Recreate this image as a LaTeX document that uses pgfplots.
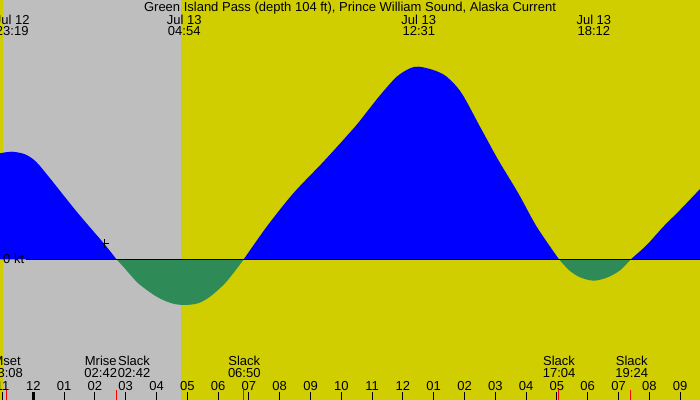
\documentclass[border=0pt]{standalone}
\usepackage{pgfplots}
\pgfplotsset{compat=1.18}
\usepackage{fontspec}
\setmainfont{Liberation Sans}
\definecolor{dayyellow}{RGB}{208,206,0}
\definecolor{nightgray}{RGB}{190,190,190}
\definecolor{ebbgreen}{RGB}{46,139,87}
\definecolor{floodblue}{RGB}{0,0,255}
\newcommand{\lf}{\fontsize{13bp}{15bp}\selectfont}
\tikzset{lbl/.style={inner sep=0pt, font=\lf, text=black}}
\begin{document}
\begin{tikzpicture}
\begin{axis}[at={(0,0)}, anchor=south west,
  width=700bp, height=400bp, scale only axis,
  xmin=-1.0812, xmax=21.646, ymin=-1.407, ymax=2.593,
  axis background/.style={fill=dayyellow},
  axis line style={draw=none},
  axis on top,
  ytick=\empty,
  xtick={-1,0,...,21},
  xticklabels={11,12,01,02,03,04,05,06,07,08,09,10,11,12,01,02,03,04,05,06,07,08,09},
  xtick pos=bottom,
  tick align=inside,
  major tick length=8bp,
  x tick style={black, line width=1bp},
  xticklabel style={anchor=base, yshift=10bp, font=\lf, inner sep=0pt},
  extra x ticks={-0.867,2.7,6.833,17.067,19.4},
  extra x tick labels={},
  extra x tick style={major tick length=10bp, x tick style={red, line width=1bp}},
]
% night
\addplot[fill=nightgray, draw=none] coordinates {(-0.984,-1.407) (-0.984,2.593) (4.795,2.593) (4.795,-1.407)} -- cycle;
% flood 1
\addplot[fill=floodblue, draw=none, smooth] coordinates {
(-1.081,1.06) (-0.701,1.076) (-0.269,1.05) (0.088,0.976) (0.542,0.81) (1.409,0.476) (2.305,0.153) (2.7,0)} \closedcycle;
% ebb 1
\addplot[fill=ebbgreen, draw=none, smooth] coordinates {
(2.7,0) (2.922,-0.074) (3.409,-0.24) (4.006,-0.374) (4.494,-0.44) (4.9,-0.457) (5.35,-0.44) (5.737,-0.374) (6.224,-0.24) (6.656,-0.074) (6.833,0)} \closedcycle;
% flood 2
\addplot[fill=floodblue, draw=none, smooth] coordinates {
(6.833,0) (7.578,0.326) (8.442,0.66) (9.471,0.993) (10.445,1.326) (10.877,1.493) (11.312,1.66) (11.799,1.826) (12.23,1.91) (12.517,1.926) (12.987,1.893) (13.422,1.826) (13.909,1.66) (14.503,1.326) (15.097,0.993) (15.747,0.66) (16.344,0.326) (17.067,0)} \closedcycle;
% ebb 2
\addplot[fill=ebbgreen, draw=none, smooth] coordinates {
(17.067,0) (17.4,-0.11) (17.75,-0.18) (18.2,-0.214) (18.65,-0.18) (19.05,-0.11) (19.4,0)} \closedcycle;
% flood 3
\addplot[fill=floodblue, draw=none, smooth] coordinates {
(19.4,0) (19.916,0.143) (20.455,0.326) (20.997,0.493) (21.646,0.703)} \closedcycle;
% zero line
\addplot[black, line width=1bp] coordinates {(-0.237,0) (21.646,0)};
% midnight tick
\addplot[black, line width=3bp] coordinates {(0,-1.407) (0,-1.327)};
% current time marker
\addplot[only marks, mark=+, mark size=4.5bp, black, line width=1bp] coordinates {(2.305,0.16)};

\node[lbl, anchor=base west] at (axis cs:-0.984,-0.042) {0 kt};
\node[lbl, anchor=base] at (axis cs:10.282,2.473) {Green Island Pass (depth 104 ft), Prince William Sound, Alaska Current};
% top labels
\node[lbl, anchor=base] at (axis cs:-0.683,2.353) {Jul 12};
\node[lbl, anchor=base] at (axis cs:-0.683,2.238) {23:19};
\node[lbl, anchor=base] at (axis cs:4.9,2.353) {Jul 13};
\node[lbl, anchor=base] at (axis cs:4.9,2.238) {04:54};
\node[lbl, anchor=base] at (axis cs:12.517,2.353) {Jul 13};
\node[lbl, anchor=base] at (axis cs:12.517,2.238) {12:31};
\node[lbl, anchor=base] at (axis cs:18.2,2.353) {Jul 13};
\node[lbl, anchor=base] at (axis cs:18.2,2.238) {18:12};
% bottom labels
\node[lbl, anchor=base] at (axis cs:-0.867,-1.064) {Mset};
\node[lbl, anchor=base] at (axis cs:-0.867,-1.184) {23:08};
\node[lbl, anchor=base] at (axis cs:2.19,-1.064) {Mrise};
\node[lbl, anchor=base] at (axis cs:2.19,-1.184) {02:42};
\node[lbl, anchor=base] at (axis cs:3.27,-1.064) {Slack};
\node[lbl, anchor=base] at (axis cs:3.27,-1.184) {02:42};
\node[lbl, anchor=base] at (axis cs:6.85,-1.064) {Slack};
\node[lbl, anchor=base] at (axis cs:6.85,-1.184) {06:50};
\node[lbl, anchor=base] at (axis cs:17.07,-1.064) {Slack};
\node[lbl, anchor=base] at (axis cs:17.07,-1.184) {17:04};
\node[lbl, anchor=base] at (axis cs:19.43,-1.064) {Slack};
\node[lbl, anchor=base] at (axis cs:19.43,-1.184) {19:24};
\end{axis}
\pgfresetboundingbox
\useasboundingbox (0,0) rectangle (700bp,400bp);
\end{tikzpicture}
\end{document}
